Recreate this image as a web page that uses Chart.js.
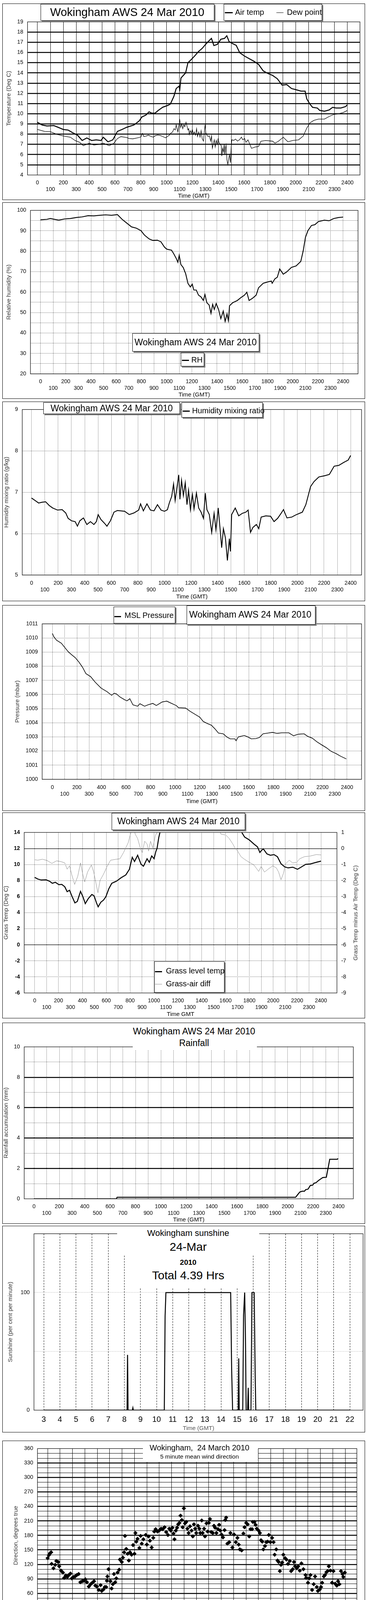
<!DOCTYPE html>
<html>
<head>
<meta charset="utf-8">
<title>Wokingham AWS 24 Mar 2010</title>
<script src="https://cdn.jsdelivr.net/npm/chart.js@4.4.1/dist/chart.umd.min.js"></script>
<style>
  body { margin: 0; background: #fff; }
  #page { position: relative; width: 940px; height: 4800px; font-family: "Liberation Sans", Arial, sans-serif; overflow: hidden; }
  .frame { position: absolute; left: 6px; width: 929px; border: 1.5px solid #000; box-sizing: border-box; }
  .wrap { position: absolute; left: 7px; width: 927px; }
  .box { position: absolute; background: #fff; box-sizing: border-box; overflow: hidden; }
  .shadow { border: 1px solid #000; box-shadow: 3px 3px 0 #7f7f7f; }
  .t { position: absolute; white-space: pre; line-height: 1; color: #000; }
  .key { position: absolute; height: 0; }
</style>
</head>
<body>
<div id="page"></div>
<script>
// ticks
var hundredTicks = [0, 100, 200, 300, 400, 500, 600, 700, 800, 900, 1000, 1100, 1200,
  1300, 1400, 1500, 1600, 1700, 1800, 1900, 2000, 2100, 2200, 2300, 2400];
var tempTicks = [4, 5, 6, 7, 8, 9, 10, 11, 12, 13, 14, 15, 16, 17, 18, 19];
var rhTicks = [20, 25, 30, 35, 40, 45, 50, 55, 60, 65, 70, 75, 80, 85, 90, 95, 100];
var mixTicks = [5, 6, 7, 8, 9];
var pressTicks = [1000, 1001, 1002, 1003, 1004, 1005, 1006, 1007, 1008, 1009, 1010, 1011];
var grassTicks = [-6, -4, -2, 0, 2, 4, 6, 8, 10, 12, 14];
var diffTicks = [-9, -8, -7, -6, -5, -4, -3, -2, -1, 0, 1];
var rainTicks = [0, 1, 2, 3, 4, 5, 6, 7, 8, 9, 10];
var sunHours = [3, 4, 5, 6, 7, 8, 9, 10, 11, 12, 13, 14, 15, 16, 17, 18, 19, 20, 21, 22];
var sunTicks = [0, 50, 100, 150];
var dirHours = [0, 1, 2, 3, 4, 5, 6, 7, 8, 9, 10, 11, 12, 13, 14, 15, 16, 17, 18, 19, 20, 21, 22, 23, 24];
var dirTicks = [0, 10, 20, 30, 40, 50, 60, 70, 80, 90, 100, 110, 120, 130, 140, 150, 160, 170, 180,
  190, 200, 210, 220, 230, 240, 250, 260, 270, 280, 290, 300, 310, 320, 330, 340, 350, 360];
var speedHours = [0, 1, 2, 3, 4, 5, 6, 7, 8, 9, 10, 11, 12, 13, 14, 15, 16, 17, 18, 19, 20, 21, 22, 23];
var speedHourLabels = ['00:00', '01:00', '02:00', '03:00', '04:00', '05:00', '06:00', '07:00', '08:00',
  '09:00', '10:00', '11:00', '12:00', '13:00', '14:00', '15:00', '16:00', '17:00', '18:00', '19:00',
  '20:00', '21:00', '22:00', '23:00'];
var speedTicks = [0, 5, 10, 15, 20, 25, 30, 35, 40, 45, 50];

// series, [time, value]
var airTemp = [[0,9.16],[36,8.9],[73,8.8],[127,8.84],[164,8.65],[200,8.46],[237,8.4],[273,8.14],[310,7.9],
  [346,7.38],[382,7.63],[419,7.38],[455,7.44],[492,7.38],[510,7.7],[546,7.25],[583,7.44],[619,8.27],
  [655,8.46],[692,8.68],[747,8.9],[788,9.3],[808,9.68],[839,9.87],[864,10.19],[884,10.06],[910,10.06],
  [935,10.32],[970,10.64],[1011,10.83],[1029,10.95],[1056,11.7],[1074,12.47],[1096,12.7],[1102,12.4],[1111,13.5],[1147,14.0],[1165,15.0],
  [1193,15.34],[1220,15.7],[1247,16.1],[1275,16.4],[1302,16.8],[1320,17.04],[1347,17.38],[1366,16.68],
  [1393,16.8],[1420,17.3],[1448,17.38],[1466,17.64],[1484,17.06],[1511,16.87],[1539,16.7],[1566,15.98],
  [1602,15.66],[1639,15.4],[1675,15.15],[1712,14.83],[1748,14.2],[1785,13.94],[1821,13.75],[1857,13.43],
  [1894,12.8],[1930,12.86],[1967,12.47],[2003,12.35],[2040,12.22],[2072,12.22],[2085,11.46],[2109,10.95],
  [2130,10.63],[2167,10.56],[2185,10.33],[2222,10.25],[2258,10.37],[2285,10.63],[2312,10.56],[2349,10.56],
  [2385,10.7],[2400,10.88]];
var dewPoint = [[0,8.46],[55,8.27],[100,8.24],[146,8.0],[200,7.82],[255,7.7],[291,7.38],[328,7.19],
  [355,6.87],[401,7.12],[437,6.93],[473,7.0],[510,7.12],[555,6.87],[592,7.12],[619,7.57],[646,7.76],
  [692,7.67],[707,7.58],[737,7.54],[768,7.62],[800,7.71],[813,8.09],[823,7.77],[839,7.8],[859,7.9],
  [880,7.77],[897,7.71],[910,7.83],[930,7.92],[950,7.87],[970,7.77],[991,7.64],[1006,7.77],[1021,7.9],
  [1031,8.09],[1046,8.22],[1057,8.54],[1067,8.41],[1074,8.92],[1080,8.6],[1087,8.22],[1094,8.73],
  [1102,9.36],[1109,8.66],[1117,9.04],[1125,8.54],[1133,8.92],[1141,8.73],[1150,9.17],[1158,8.79],
  [1165,8.41],[1171,8.54],[1175,7.96],[1183,8.34],[1191,8.09],[1199,8.47],[1206,7.96],[1214,8.22],
  [1224,7.9],[1232,8.54],[1239,7.77],[1249,8.22],[1259,7.71],[1267,8.34],[1275,7.58],[1285,7.32],
  [1290,7.96],[1298,8.92],[1303,8.15],[1313,7.9],[1321,7.77],[1331,7.83],[1341,7.32],[1348,7.83],
  [1354,6.62],[1361,7.01],[1369,7.45],[1376,6.75],[1384,7.39],[1392,7.01],[1398,7.52],[1407,7.13],
  [1415,7.01],[1423,6.88],[1427,5.86],[1433,6.62],[1440,6.24],[1446,7.01],[1451,5.99],[1456,6.62],
  [1460,6.94],[1467,5.48],[1474,5.03],[1481,5.61],[1487,5.99],[1494,5.22],[1500,6.75],[1505,7.45],
  [1520,7.39],[1533,7.52],[1549,7.32],[1564,7.45],[1579,7.71],[1589,7.45],[1604,7.58],[1614,7.2],
  [1630,7.44],[1657,6.61],[1685,6.74],[1712,6.8],[1730,7.31],[1767,7.38],[1821,7.31],[1839,7.12],
  [1866,7.31],[1903,7.7],[1939,7.25],[1976,7.38],[2021,7.44],[2058,7.82],[2085,8.59],[2109,9.1],
  [2140,9.35],[2176,9.48],[2222,9.48],[2258,9.73],[2294,9.93],[2331,10.0],[2367,10.12],[2400,10.33]];
var relHum = [[0,95.4],[50,95.6],[78,96],[144,95.2],[190,95.8],[237,96],[283,96.5],[330,96.8],[377,97.4],
  [423,97.3],[470,97.6],[517,97.8],[563,97.6],[610,97.9],[647,95.6],[684,93.75],[722,91.9],[759,91.3],
  [796,90.1],[824,87.9],[862,86],[890,85.3],[927,85.4],[955,84.6],[983,82],[1001,81],[1039,80.5],
  [1057,78.7],[1076,76.5],[1089,74.6],[1100,78],[1113,73.5],[1132,72],[1151,69],[1169,64.3],[1188,62.5],
  [1203,63.9],[1216,61],[1235,61],[1253,58.5],[1272,57.7],[1291,55.9],[1304,58.8],[1319,54.8],[1337,53.7],
  [1352,49.6],[1365,54],[1378,51.5],[1393,54.4],[1412,51.5],[1430,47],[1449,50.7],[1464,45.6],[1479,49.3],
  [1490,46],[1499,53.3],[1524,54.8],[1561,55.9],[1589,57.3],[1617,58.5],[1636,59.9],[1654,55.9],[1682,57],
  [1710,58.5],[1729,62.1],[1766,64.3],[1803,65],[1831,65.4],[1837,64.3],[1859,66.5],[1878,67.3],
  [1897,71.3],[1925,68.75],[1953,69.9],[1990,72.1],[2027,72.8],[2064,75],[2083,80.1],[2101,86.8],
  [2121,90.1],[2149,92.6],[2176,93],[2204,94.5],[2251,95.2],[2288,94.9],[2325,96],[2363,96.5],[2400,96.7]];
var mixRatio = [[0,6.86],[27,6.8],[53,6.74],[80,6.76],[106,6.77],[133,6.68],[159,6.62],[195,6.57],
  [230,6.58],[257,6.5],[275,6.37],[301,6.31],[328,6.29],[345,6.18],[363,6.31],[390,6.38],[416,6.22],
  [443,6.29],[469,6.22],[487,6.29],[501,6.46],[522,6.34],[549,6.25],[567,6.18],[593,6.31],[620,6.52],
  [646,6.56],[700,6.54],[735,6.46],[770,6.5],[806,6.57],[820,6.72],[841,6.55],[868,6.72],[894,6.57],
  [921,6.55],[947,6.7],[974,6.57],[1000,6.54],[1022,6.58],[1036,6.74],[1054,6.9],[1068,7.2],[1080,6.8],
  [1093,7.1],[1107,7.42],[1116,6.83],[1128,7.29],[1142,6.92],[1156,7.23],[1169,6.7],[1181,7.05],
  [1195,6.58],[1210,6.95],[1222,6.6],[1240,6.98],[1257,6.62],[1275,6.52],[1293,6.37],[1307,6.98],
  [1319,6.58],[1337,6.46],[1355,6.03],[1373,6.49],[1387,6.09],[1404,6.62],[1417,6.15],[1430,5.66],
  [1443,6.12],[1458,5.9],[1473,5.35],[1488,5.88],[1496,5.57],[1505,6.46],[1532,6.62],[1558,6.43],
  [1585,6.49],[1612,6.52],[1629,6.57],[1647,6.03],[1665,6.15],[1691,6.22],[1709,6.12],[1727,6.4],
  [1762,6.43],[1798,6.42],[1824,6.29],[1851,6.37],[1877,6.49],[1895,6.58],[1921,6.38],[1957,6.4],
  [1992,6.46],[2037,6.52],[2063,6.7],[2081,6.92],[2099,7.14],[2125,7.26],[2161,7.37],[2205,7.4],
  [2240,7.43],[2276,7.63],[2311,7.65],[2347,7.72],[2382,7.78],[2400,7.89]];
var mslPressure = [[0,1010.33],[11,1010.1],[34,1009.84],[73,1009.63],[101,1009.33],[130,1009.02],
  [159,1008.8],[187,1008.6],[216,1008.3],[245,1007.94],[273,1007.48],[311,1007.27],[350,1006.86],
  [397,1006.45],[445,1006.2],[483,1005.94],[503,1006.09],[522,1006.04],[550,1005.83],[588,1005.63],
  [608,1005.55],[631,1005.7],[656,1005.27],[694,1005.17],[713,1005.35],[751,1005.17],[780,1005.27],
  [818,1005.37],[847,1005.22],[894,1005.47],[932,1005.53],[971,1005.37],[1009,1005.22],[1028,1005.06],
  [1085,1005.04],[1124,1004.8],[1162,1004.6],[1200,1004.4],[1229,1004.09],[1266,1003.93],[1295,1003.83],
  [1324,1003.57],[1353,1003.27],[1391,1003.22],[1420,1003.0],[1448,1002.86],[1487,1002.86],[1496,1002.73],
  [1515,1003.0],[1563,1003.1],[1592,1003.0],[1620,1002.86],[1659,1002.88],[1687,1002.96],[1716,1003.22],
  [1754,1003.27],[1792,1003.32],[1830,1003.25],[1869,1003.29],[1926,1003.29],[1964,1003.08],[2003,1003.19],
  [2050,1003.22],[2079,1003.04],[2117,1002.91],[2155,1002.65],[2193,1002.44],[2231,1002.24],[2270,1001.98],
  [2308,1001.83],[2346,1001.64],[2394,1001.44]];
var grassTemp = [[0,8.4],[26,8.19],[55,8.07],[95,8.1],[124,7.93],[148,7.66],[173,7.79],[203,7.49],
  [227,7.53],[252,7.23],[272,6.62],[292,6.8],[311,6.1],[337,5.22],[357,5.4],[384,6.65],[404,6.0],
  [424,5.13],[449,5.75],[479,6.27],[498,6.1],[518,5.22],[532,4.73],[554,5.3],[577,5.57],[597,6.0],
  [621,6.97],[646,7.66],[686,7.93],[725,8.36],[764,8.71],[794,9.41],[818,10.9],[837,10.37],[863,11.16],
  [892,10.02],[912,9.79],[942,10.72],[961,10.28],[981,11.07],[1001,10.72],[1015,11.59],[1026,12.03],
  [1040,13.34],[1050,14.0],[1100,16.5],[1200,20],[1300,22],[1400,22.5],[1500,21],[1600,18],[1700,15],
  [1736,14.0],[1760,13.42],[1799,13.07],[1838,12.55],[1868,12.2],[1888,11.5],[1902,11.77],[1917,11.94],
  [1947,11.33],[1976,11.16],[2006,11.24],[2035,10.98],[2065,10.1],[2095,9.72],[2124,9.58],[2164,9.67],
  [2203,9.41],[2233,9.67],[2272,10.02],[2311,10.07],[2361,10.28],[2400,10.42]];
var grassAirDiff = [[0,-0.7],[26,-0.73],[65,-0.67],[104,-0.75],[144,-0.93],[183,-0.77],[222,-0.82],
  [252,-0.9],[272,-1.29],[292,-1.08],[311,-1.64],[335,-2.24],[361,-1.73],[384,-0.9],[404,-1.64],
  [420,-2.08],[443,-1.47],[475,-1.03],[495,-1.47],[514,-2.17],[530,-2.76],[548,-1.99],[577,-1.6],
  [607,-1.12],[636,-0.73],[676,-0.68],[715,-0.64],[745,-0.25],[784,0.36],[804,0.93],[814,1.1],[830,1.3],
  [843,0.89],[863,0.62],[889,-0.07],[902,-0.25],[922,0.45],[942,0.28],[955,-0.16],[971,0.45],[991,0.02],
  [1011,0.8],[1030,1.05],[1100,2],[1300,3],[1500,2],[1550,1.1],[1562,0.89],[1602,0.84],[1631,0.62],
  [1661,0.28],[1681,0.01],[1701,-0.16],[1730,-0.51],[1760,-0.68],[1799,-0.86],[1838,-1.03],[1878,-1.43],
  [1898,-1.12],[1927,-1.47],[1957,-1.29],[1996,-1.08],[2026,-1.21],[2045,-1.47],[2065,-1.95],[2085,-1.56],
  [2104,-0.95],[2134,-0.73],[2163,-0.9],[2197,-0.86],[2222,-0.64],[2262,-0.51],[2311,-0.47],[2361,-0.38],
  [2400,-0.4]];
var rainfall = [[0,0],[650,0],[655,0.1],[2062,0.1],[2077,0.26],[2095,0.45],[2114,0.5],[2132,0.5],
  [2141,0.6],[2160,0.64],[2178,0.88],[2197,0.9],[2206,1.02],[2224,1.07],[2243,1.21],[2276,1.4],
  [2304,1.42],[2317,1.98],[2331,2.6],[2391,2.6],[2396,2.66]];
var sunshine = [[3,0],[8.17,0],[8.2,47],[8.23,0],[8.5,0],[8.53,2],[8.56,0],[10.48,0],[10.53,80],
  [10.58,100],[14.6,100],[14.66,35],[14.72,0],[15.07,0],[15.1,44],[15.13,0],[15.35,0],[15.4,81],
  [15.47,100],[15.52,60],[15.56,0],[15.65,0],[15.69,19],[15.72,0],[15.86,0],[15.92,100],[16.06,100],
  [16.12,30],[16.16,0],[22,0]];
var windDir = [[0.0,133],[0.1,139],[0.19,143],[0.28,145],[0.32,121],[0.47,112],[0.61,119],[0.7,127],
  [0.85,125],[0.93,116],[1.08,107],[1.23,103],[1.33,92],[1.46,97],[1.59,94],[1.71,98],[1.84,101],[1.95,91],
  [2.09,94],[2.22,95],[2.35,98],[2.5,100],[2.64,83],[2.79,85],[2.92,86],[3.04,89],[3.17,83],[3.32,74],
  [3.47,79],[3.61,82],[3.74,85],[3.85,76],[3.98,74],[4.12,67],[4.27,77],[4.36,65],[4.5,68],[4.61,73],
  [4.72,73],[4.78,86],[4.82,95],[4.91,110],[5.07,85],[5.16,70],[5.26,79],[5.35,100],[5.45,83],[5.54,91],
  [5.64,103],[5.77,109],[5.83,130],[5.98,125],[6.07,134],[6.17,145],[6.24,179],[6.34,152],[6.45,142],
  [6.55,128],[6.64,145],[6.77,140],[6.89,160],[7.0,142],[7.08,185],[7.15,167],[7.25,173],[7.4,154],
  [7.5,179],[7.59,163],[7.72,172],[7.91,181],[8.0,161],[8.14,178],[8.25,169],[8.39,155],[8.52,175],
  [8.6,188],[8.71,193],[8.86,188],[8.99,190],[9.15,194],[9.28,193],[9.43,197],[9.56,187],[9.7,181],
  [9.81,194],[9.94,190],[10.06,196],[10.15,184],[10.23,172],[10.34,190],[10.44,196],[10.53,203],
  [10.63,206],[10.72,221],[10.82,212],[10.89,197],[10.99,236],[11.08,205],[11.18,208],[11.27,194],
  [11.37,185],[11.48,199],[11.61,190],[11.71,178],[11.8,203],[11.9,194],[11.99,185],[12.13,200],
  [12.24,194],[12.31,185],[12.43,211],[12.5,185],[12.62,194],[12.69,178],[12.81,205],[12.9,188],
  [13.0,206],[13.09,214],[13.19,187],[13.32,185],[13.42,200],[13.51,196],[13.61,185],[13.74,193],
  [13.83,202],[13.93,190],[14.02,182],[14.14,176],[14.27,191],[14.33,212],[14.4,217],[14.5,163],
  [14.65,166],[14.74,185],[14.9,155],[15.03,182],[15.18,166],[15.31,175],[15.41,161],[15.5,151],
  [15.65,149],[15.79,184],[15.88,197],[16.02,206],[16.13,203],[16.26,178],[16.36,193],[16.49,193],
  [16.55,208],[16.68,208],[16.77,202],[16.87,194],[17.02,190],[17.12,185],[17.21,170],[17.31,167],
  [17.4,151],[17.53,158],[17.63,166],[17.74,167],[17.84,181],[17.97,166],[18.1,175],[18.22,166],
  [18.31,140],[18.44,151],[18.54,128],[18.63,125],[18.73,106],[18.82,119],[18.92,124],[19.01,140],
  [19.15,133],[19.26,130],[19.39,121],[19.53,127],[19.64,106],[19.77,110],[19.87,125],[19.96,116],
  [20.1,112],[20.21,116],[20.34,107],[20.47,122],[20.63,110],[20.8,98],[20.85,92],[21.0,82],[21.1,91],
  [21.2,98],[21.33,67],[21.46,79],[21.57,95],[21.71,73],[21.8,65],[21.95,68],[22.05,73],[22.14,82],
  [22.28,95],[22.37,98],[22.49,104],[22.58,106],[22.68,116],[22.81,107],[22.94,82],[23.05,106],
  [23.19,80],[23.32,76],[23.42,85],[23.53,79],[23.66,106],[23.78,100],[23.85,94],[23.97,103]];
var meanSpeed = [[0,4.89],[0.15,4.44],[0.3,3.11],[0.45,3.33],[0.61,4.0],[0.81,4.22],[1.01,4.89],
  [1.21,4.67],[1.41,3.56],[1.72,3.33],[2.02,3.33],[2.22,3.11],[2.53,4.0],[2.83,3.78],[3.03,3.33],
  [3.28,2.0],[3.48,2.44],[3.74,2.22],[4.04,2.44],[4.44,2.67],[4.75,3.33],[4.95,4.44],[5.1,2.0],
  [5.25,1.56],[5.5,2.0],[5.71,2.89],[5.96,4.0],[6.16,5.11],[6.36,5.33],[6.57,5.78],[6.77,5.33],
  [6.97,3.56],[7.17,3.78],[7.47,4.0],[7.78,4.44],[7.98,2.89],[8.18,2.44],[8.43,3.33],[8.69,4.22],
  [8.89,4.89],[9.04,2.89],[9.19,3.78],[9.39,4.22],[9.6,4.67],[9.9,5.33],[10.1,5.56],[10.4,6.0],
  [10.71,6.44],[10.91,6.67],[11.06,4.44],[11.21,4.22],[11.36,4.0],[11.57,6.67],[11.82,7.11],[12.12,6.67],
  [12.22,6.89],[12.42,7.11],[12.63,6.67],[12.83,6.22],[12.98,5.33],[13.13,5.78],[13.33,6.44],[13.54,5.33],
  [13.64,4.89],[13.84,6.22],[14.04,5.56],[14.24,4.89],[14.39,4.0],[14.55,4.89],[14.75,7.11],[14.95,5.78],
  [15.15,7.78],[15.35,8.67],[15.56,8.22],[15.76,6.67],[15.96,6.44],[16.16,5.78],[16.36,6.67],[16.57,6.89],
  [16.77,6.22],[16.97,5.11],[17.17,5.33],[17.37,4.89],[17.58,4.44],[17.78,4.0],[17.98,3.78],[18.18,3.56],
  [18.38,3.56],[18.59,2.44],[18.79,3.56],[18.99,4.0],[19.19,3.78],[19.39,3.33],[19.6,3.33],[19.8,2.89],
  [20.0,2.22],[20.2,2.0],[20.4,2.44],[20.61,2.22],[20.81,3.11],[21.01,3.33],[21.21,2.89],[21.41,3.33],
  [21.62,3.11],[21.82,3.56],[22.02,3.78],[22.22,3.33],[22.42,3.78],[22.63,3.56],[22.83,3.33],[23.03,3.11],
  [23.23,2.89],[23.43,2.67],[23.64,2.44],[23.84,3.33],[23.94,3.78]];
var gusts = [[0,7.33],[0.05,5.33],[0.15,6.22],[0.25,4.0],[0.35,6.44],[0.51,5.33],[0.61,6.67],[0.71,5.33],
  [0.81,9.11],[0.91,5.78],[1.01,8.0],[1.11,5.33],[1.21,8.89],[1.31,4.44],[1.46,6.0],[1.62,4.44],
  [1.77,5.56],[1.92,4.44],[2.02,6.0],[2.22,4.22],[2.42,5.33],[2.58,6.89],[2.68,4.44],[2.83,4.89],
  [2.98,3.78],[3.13,5.33],[3.28,3.33],[3.43,4.44],[3.54,6.44],[3.64,3.56],[3.79,4.89],[3.94,3.56],
  [4.04,4.44],[4.19,3.33],[4.34,4.0],[4.5,5.33],[4.65,3.78],[4.8,4.89],[4.9,6.0],[5.0,4.0],[5.1,1.78],
  [5.15,3.33],[5.3,4.44],[5.45,3.78],[5.66,5.33],[5.86,7.56],[5.96,5.33],[6.06,6.67],[6.21,5.33],
  [6.36,7.78],[6.46,8.44],[6.62,6.67],[6.72,8.0],[6.87,5.56],[7.02,6.67],[7.17,5.33],[7.32,8.22],
  [7.47,5.78],[7.63,6.67],[7.78,4.44],[7.93,5.33],[8.08,4.0],[8.13,1.78],[8.23,3.33],[8.33,4.44],
  [8.49,5.33],[8.69,7.56],[8.84,5.33],[8.99,5.78],[9.09,7.11],[9.24,5.56],[9.39,9.56],[9.5,7.11],
  [9.6,11.11],[9.7,7.56],[9.85,9.11],[9.95,7.56],[10.1,8.44],[10.25,6.22],[10.45,11.33],[10.56,8.89],
  [10.71,10.67],[10.86,7.78],[11.01,9.78],[11.11,5.33],[11.26,8.22],[11.41,9.78],[11.52,12.0],[11.67,8.0],
  [11.77,12.0],[11.92,8.44],[12.07,11.78],[12.22,8.0],[12.27,13.11],[12.37,8.0],[12.53,10.67],[12.68,6.67],
  [12.83,10.67],[12.98,7.56],[13.13,14.0],[13.23,8.44],[13.38,13.11],[13.48,7.56],[13.64,9.78],[13.79,7.11],
  [13.94,8.0],[14.09,10.67],[14.19,6.67],[14.29,8.44],[14.44,12.0],[14.6,6.22],[14.75,10.67],[14.9,8.0],
  [15.05,12.22],[15.15,9.33],[15.3,14.0],[15.4,10.22],[15.56,14.44],[15.66,9.78],[15.81,13.33],[15.91,8.0],
  [16.06,9.78],[16.21,6.67],[16.36,14.22],[16.46,8.0],[16.62,9.78],[16.72,11.11],[16.87,7.56],[17.02,9.33],
  [17.12,6.89],[17.22,8.89],[17.32,6.22],[17.47,7.56],[17.63,5.78],[17.78,6.67],[17.93,4.89],[18.08,5.78],
  [18.23,4.44],[18.36,9.78],[18.43,4.44],[18.59,4.0],[18.74,5.33],[18.89,4.22],[18.99,7.56],[19.09,4.44],
  [19.24,5.33],[19.39,3.78],[19.55,4.89],[19.7,3.33],[19.85,4.22],[20.0,3.33],[20.15,4.0],[20.3,2.67],
  [20.45,5.56],[20.61,3.33],[20.76,3.56],[20.91,4.67],[21.06,3.78],[21.21,4.44],[21.36,3.56],[21.52,4.22],
  [21.67,5.11],[21.82,4.0],[21.97,5.33],[22.12,3.78],[22.27,7.33],[22.37,4.44],[22.53,6.0],[22.68,3.56],
  [22.83,5.78],[22.98,4.0],[23.13,5.78],[23.28,3.78],[23.43,5.33],[23.59,3.56],[23.74,5.33],[23.84,4.44],
  [23.92,7.56]];

Chart.defaults.font.family = '"Liberation Sans", Arial, sans-serif';
Chart.defaults.color = '#000';

var PL = 7, PR = 934;
var page = document.getElementById('page');
var CLEAR = 'rgba(0,0,0,0)';

// plot area outline
var frameBox = {
  id: 'frameBox',
  afterDraw: function (chart) {
    var a = chart.chartArea, ctx = chart.ctx;
    ctx.save();
    ctx.strokeStyle = '#000';
    ctx.lineWidth = 1.2;
    ctx.strokeRect(a.left, a.top, a.right - a.left, a.bottom - a.top);
    ctx.restore();
  }
};

function fixTicks(values) {
  return function (s) { s.ticks = values.map(function (v) { return { value: v }; }); };
}

function tickVal(ctx) { return ctx.tick ? ctx.tick.value : null; }

function timeAxis(min, max, pad, title, titlePad, grid, dash) {
  return {
    type: 'linear', min: min, max: max,
    afterBuildTicks: fixTicks(hundredTicks),
    ticks: { autoSkip: false, maxRotation: 0, minRotation: 0, padding: pad, font: { size: 14 },
      callback: function (v) { return (v / 100) % 2 ? ['', String(v)] : String(v); } },
    grid: grid || { color: '#000', lineWidth: 1, drawTicks: false },
    border: { display: false, dash: dash || [] },
    title: { display: true, text: title, font: { size: 15 }, padding: { top: 0, bottom: titlePad } }
  };
}

function valueAxis(min, max, values, labelFn, title, titlePad, grid, dash, font) {
  return {
    type: 'linear', min: min, max: max,
    afterBuildTicks: fixTicks(values),
    ticks: { autoSkip: false, padding: 11, font: font || { size: 14 },
      callback: labelFn || function (v) { return String(v); } },
    grid: grid,
    border: { display: false, dash: dash || [] },
    title: { display: !!title, text: title, color: '#333', font: { size: 15 }, padding: { top: titlePad, bottom: 0 } }
  };
}

function lineSet(data, width, color, axis) {
  return { data: data, borderColor: color || '#000', borderWidth: width, pointRadius: 0,
    tension: 0, fill: false, yAxisID: axis || 'y' };
}

function makeChart(p) {
  var frame = document.createElement('div');
  frame.className = 'frame';
  frame.style.top = p.top + 'px';
  frame.style.height = (p.bottom - p.top) + 'px';
  page.appendChild(frame);
  var wt = p.top + 1, wh = p.bottom - p.top - 2;
  var wrap = document.createElement('div');
  wrap.className = 'wrap';
  wrap.style.top = wt + 'px';
  wrap.style.height = wh + 'px';
  var cv = document.createElement('canvas');
  wrap.appendChild(cv);
  page.appendChild(wrap);
  var a = p.area;
  var scales = {
    x: Object.assign({ position: 'bottom' }, p.x, { afterFit: function (s) { s.height = wt + wh - a.B; } }),
    y: Object.assign({ position: 'left' }, p.y, { afterFit: function (s) { s.width = a.L - PL; } })
  };
  if (p.ys) scales.ys = Object.assign({ position: 'left' }, p.ys, { afterFit: function (s) { s.width = 0; } });
  if (p.y2) scales.y2 = Object.assign({ position: 'right' }, p.y2, { afterFit: function (s) { s.width = PR - a.R; } });
  return new Chart(cv, {
    type: 'line',
    data: { datasets: p.datasets },
    options: {
      responsive: true, maintainAspectRatio: false, animation: false,
      layout: { padding: { left: 0, top: a.T - wt, right: p.y2 ? 0 : PR - a.R, bottom: 0 } },
      plugins: { legend: { display: false }, tooltip: { enabled: false } },
      scales: scales
    },
    plugins: [frameBox]
  });
}

// html helpers for title boxes and keys
function box(x, y, w, h, shadow) {
  var d = document.createElement('div');
  d.className = 'box' + (shadow ? ' shadow' : '');
  d.style.left = x + 'px'; d.style.top = y + 'px';
  d.style.width = w + 'px'; d.style.height = h + 'px';
  page.appendChild(d);
  return d;
}
function text(x, y, str, size, opt) {
  opt = opt || {};
  var d = document.createElement('div');
  d.className = 't';
  d.textContent = str;
  d.style.fontSize = size + 'px';
  d.style.left = x + 'px'; d.style.top = y + 'px';
  d.style.transform = opt.left ? 'translateY(-50%)' : 'translate(-50%,-50%)';
  if (opt.rot) d.style.transform = 'translate(-50%,-50%) rotate(-90deg)';
  if (opt.bold) d.style.fontWeight = 'bold';
  if (opt.color) d.style.color = opt.color;
  page.appendChild(d);
  return d;
}
function key(x1, x2, y, w, color) {
  var d = document.createElement('div');
  d.className = 'key';
  d.style.left = x1 + 'px'; d.style.width = (x2 - x1) + 'px';
  d.style.top = (y - w / 2) + 'px';
  d.style.borderTop = w + 'px solid ' + (color || '#000');
  page.appendChild(d);
}

var dotted = [1, 2];
var dotGrid = { color: '#000', lineWidth: 1, drawTicks: false };
var everyTen = function (v) { return v % 10 === 0 ? String(v) : ''; };

// 1: air temperature and dew point
makeChart({
  top: 9, bottom: 512, area: { L: 70.5, R: 922, T: 56, B: 448 },
  x: timeAxis(-77, 2497, 11.6, 'Time (GMT)', 0),
  y: valueAxis(4, 19, tempTicks, null, 'Temperature (Deg C)', 7,
    { color: '#000', drawTicks: false,
      lineWidth: function (c) { var v = tickVal(c); return v > 4 && v < 19 ? 2.5 : 0; } }),
  datasets: [lineSet(airTemp, 2.5), lineSet(dewPoint, 1.3)]
});

// 2: relative humidity
makeChart({
  top: 518, bottom: 1021, area: { L: 78, R: 917, T: 538.5, B: 957 },
  x: timeAxis(-80, 2518, 11.6, 'Time (GMT)', 0, dotGrid, dotted),
  y: valueAxis(20, 100, rhTicks, everyTen, 'Relative humidity (%)', 7, dotGrid, dotted),
  datasets: [lineSet(relHum, 2.2)]
});

// 3: humidity mixing ratio
makeChart({
  top: 1028, bottom: 1539, area: { L: 57, R: 926, T: 1038, B: 1472 },
  x: timeAxis(-70, 2482, 12.6, 'Time (GMT)', 1, dotGrid, dotted),
  y: valueAxis(5, 9, mixTicks, null, 'Humidity mixing ratio (g/kg)', 1, dotGrid, dotted),
  datasets: [lineSet(mixRatio, 2.2)]
});

// 4: MSL pressure
makeChart({
  top: 1549, bottom: 2076, area: { L: 108, R: 926, T: 1597, B: 1995 },
  x: timeAxis(-83, 2518, 12.6, 'Time (GMT)', 14, dotGrid, dotted),
  y: valueAxis(1000, 1011, pressTicks, null, 'Pressure (mbar)', 29, dotGrid, dotted),
  datasets: [lineSet(mslPressure, 1.6)]
});

// 5: grass temperature, grass minus air
makeChart({
  top: 2080, bottom: 2607, area: { L: 62, R: 863, T: 2131, B: 2542 },
  x: timeAxis(-88, 2534, 11.6, 'Time GMT', 0, dotGrid, dotted),
  y: valueAxis(-6, 14, grassTicks, null, 'Grass Temp (Deg C)', 0,
    { drawTicks: false, lineWidth: 1,
      color: function (c) { var v = tickVal(c); return [-6, 0, 12, 14].indexOf(v) < 0 ? '#000' : CLEAR; } },
    dotted, { size: 14, weight: 'bold' }),
  ys: valueAxis(-6, 14, [0, 12], null, '', 0, { color: '#000', lineWidth: 1.2, drawTicks: false }),
  y2: valueAxis(-9, 1, diffTicks, null, '', 0, { drawOnChartArea: false, drawTicks: false }),
  datasets: [lineSet(grassTemp, 2.5), lineSet(grassAirDiff, 1, '#8c8c8c', 'y2')]
});

// 6: rainfall accumulation
makeChart({
  top: 2618, bottom: 3133, area: { L: 62, R: 905, T: 2680, B: 3069 },
  x: timeAxis(-77, 2517, 11.6, 'Time (GMT)', 0, dotGrid, dotted),
  y: valueAxis(0, 10, rainTicks, function (v) { return v % 2 ? '' : String(v); },
    'Rainfall accumulation (mm)', 0,
    { drawTicks: false, lineWidth: 1,
      color: function (c) { var v = tickVal(c); return v % 2 ? '#000' : CLEAR; } }, dotted),
  ys: valueAxis(0, 10, [2, 4, 6, 8], null, '', 0, { color: '#000', lineWidth: 2.5, drawTicks: false }),
  datasets: [lineSet(rainfall, 2.5)]
});

// 7: sunshine
makeChart({
  top: 3138, bottom: 3667, area: { L: 87, R: 930, T: 3150, B: 3610 },
  x: {
    type: 'linear', min: 2.39, max: 22.82,
    afterBuildTicks: fixTicks(sunHours),
    ticks: { autoSkip: false, maxRotation: 0, padding: 12, font: { size: 20 },
      callback: function (v) { return String(v); } },
    grid: { color: '#000', lineWidth: 1, drawTicks: false },
    border: { display: false, dash: [4, 3] },
    title: { display: true, text: 'Time (GMT)', color: '#555', font: { size: 15 }, padding: { top: 0, bottom: 0 } }
  },
  y: valueAxis(0, 150, sunTicks, function (v) { return v === 0 || v === 100 ? String(v) : ''; },
    'Sunshine (per cent per minute)', 11,
    { drawTicks: false, lineWidth: 1,
      color: function (c) { var v = tickVal(c); return v === 50 || v === 100 ? '#b0b0b0' : CLEAR; } }, [2, 2]),
  datasets: [lineSet(sunshine, 2.5)]
});

// 8: wind direction
makeChart({
  top: 3688, bottom: 4205, area: { L: 96, R: 914, T: 3707, B: 4153 },
  x: {
    type: 'linear', min: -0.82, max: 24.94,
    afterBuildTicks: fixTicks(dirHours),
    ticks: { autoSkip: false, maxRotation: 0, padding: 11.6, font: { size: 14 },
      callback: function (v) { return String(v); } },
    grid: { color: '#000', lineWidth: 1, drawTicks: false },
    border: { display: false },
    title: { display: true, text: 'Time (GMT)', font: { size: 15 }, padding: { top: 0, bottom: 3 } }
  },
  y: valueAxis(0, 360, dirTicks, function (v) { return v % 30 === 0 ? String(v) : ''; },
    'Direction, degrees true', 25,
    { color: '#000', drawTicks: false,
      lineWidth: function (c) { var v = tickVal(c); return v % 30 === 0 && v > 0 && v < 360 ? 2.5 : 1; } }),
  datasets: [{ data: windDir, showLine: false, pointStyle: 'rectRot', pointRadius: 5,
    pointBackgroundColor: '#000', pointBorderColor: '#000', pointBorderWidth: 1 }]
});

// 9: wind speed
makeChart({
  top: 4210, bottom: 4712, area: { L: 68, R: 926, T: 4254, B: 4632 },
  x: {
    type: 'linear', min: -0.76, max: 25.2,
    afterBuildTicks: fixTicks(speedHours),
    ticks: { autoSkip: false, maxRotation: 0, padding: 9.6, font: { size: 14 },
      callback: function (v) { var s = speedHourLabels[v]; return v % 2 ? ['', s] : s; } },
    grid: dotGrid,
    border: { display: false, dash: dotted },
    title: { display: true, text: 'Time (GMT)', font: { size: 15 }, padding: { top: 0, bottom: 14 } }
  },
  y: valueAxis(0, 50, speedTicks, everyTen, 'Speed (knots)', 4, dotGrid, dotted),
  datasets: [lineSet(meanSpeed, 2.2), lineSet(gusts, 1.1)]
});

// ---- titles and legends ----
// 1
box(104, 10, 445, 43, true);
text(326, 31, 'Wokingham AWS 24 Mar 2010', 29);
box(573, 10, 252, 43, true);
key(576, 596, 32, 3); text(602, 31, 'Air temp', 20, { left: true });
key(708, 726, 32, 1); text(735, 31, 'Dew point', 20, { left: true });
// 2
box(339, 853, 325, 47, true);
text(501, 876, 'Wokingham AWS 24 Mar 2010', 23);
box(463, 903, 60, 35, true);
key(466, 484, 922, 3); text(490, 921, 'RH', 20, { left: true });
// 3
box(111, 1030, 350, 30, true);
text(286, 1045, 'Wokingham AWS 24 Mar 2010', 23);
box(465, 1030, 208, 39, true);
key(468, 486, 1052, 3); text(492, 1051, 'Humidity mixing ratio', 20, { left: true });
// 4
box(291, 1553, 158, 43, true);
key(293, 310, 1578, 3); text(319, 1575, 'MSL Pressure', 20, { left: true });
box(478, 1550, 330, 49, true);
text(641, 1573, 'Wokingham AWS 24 Mar 2010', 23);
// 5
box(286, 2081, 342, 44, true);
text(457, 2102, 'Wokingham AWS 24 Mar 2010', 23);
box(395, 2461, 180, 80, true);
key(397, 415, 2487, 3); text(425, 2485, 'Grass level temp', 20, { left: true });
key(397, 415, 2519, 1, '#8c8c8c'); text(425, 2518, 'Grass-air diff', 20, { left: true });
text(910, 2337, 'Grass Temp minus Air Temp (Deg C)', 15, { rot: true, color: '#333' });
// 6
box(340, 2625, 318, 62, false);
text(497, 2640, 'Wokingham AWS 24 Mar 2010', 23);
text(497, 2670, 'Rainfall', 23);
// 7
box(300, 3142, 364, 72, false);
box(320, 3213, 327, 83, false);
text(482, 3157, 'Wokingham sunshine', 22);
text(482, 3192, '24-Mar', 30);
text(482, 3231, '2010', 19, { bold: true });
text(482, 3265, 'Total 4.39 Hrs', 30);
// 8
box(366, 3696, 295, 46, false);
text(511, 3706, 'Wokingham,  24 March 2010', 20);
text(511, 3729, '5 minute mean wind direction', 15.5);
// 9
text(309, 4235, 'Wokingham,  24 March 2010', 23);
text(553, 4235, 'Wind speed', 20);
box(711, 4213, 176, 55, true);
key(717, 733, 4229, 3); text(741, 4229, '10 Min mean speed', 16, { left: true });
key(717, 733, 4254, 1); text(741, 4254, 'Gusts', 16, { left: true });
</script>
</body>
</html>
